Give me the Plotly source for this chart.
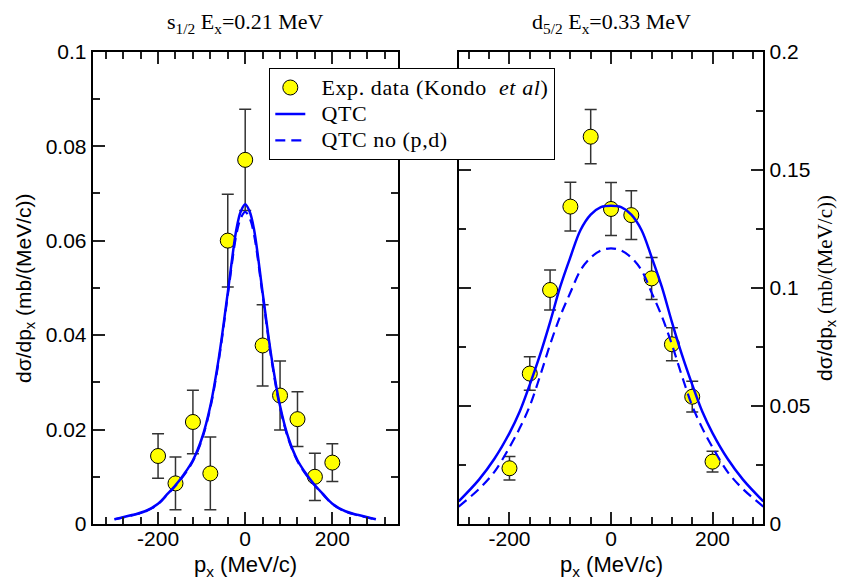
import plotly.graph_objects as go

W, H = 843, 579

# ---------------- data ----------------
exp_px = [-200, -160, -120, -80, -40, 0, 40, 80, 120, 160, 200]

s12_exp = [0.0144, 0.0086, 0.0216, 0.0107, 0.0600, 0.0771, 0.0378, 0.0272, 0.0222, 0.0100, 0.0130]
s12_err = [0.0047, 0.0056, 0.0067, 0.0077, 0.0098, 0.0107, 0.0086, 0.0073, 0.0058, 0.0050, 0.0040]

d52_exp = [0.0236, 0.0637, 0.0991, 0.1344, 0.1640, 0.1334, 0.1308, 0.1040, 0.0761, 0.0539, 0.0264]
d52_err = [0.0050, 0.0071, 0.0085, 0.0103, 0.0115, 0.0112, 0.0103, 0.0089, 0.0070, 0.0065, 0.0044]

s12_curve_px = [-300, -260, -230, -200, -180, -160, -140, -120, -100, -80, -60, -40, -20, -10, 0,
                10, 20, 40, 60, 80, 100, 120, 140, 160, 180, 200, 230, 260, 300]
s12_qtc = [0.0010, 0.0019, 0.0027, 0.0043, 0.0062, 0.0082, 0.0106, 0.0135, 0.0180, 0.0250, 0.0355,
           0.0490, 0.0625, 0.0662, 0.0677,
           0.0662, 0.0625, 0.0490, 0.0355, 0.0250, 0.0180, 0.0135, 0.0106, 0.0082, 0.0062, 0.0043,
           0.0027, 0.0019, 0.0010]
s12_qtc_nopd = [0.0010, 0.0018, 0.0026, 0.0042, 0.0061, 0.0081, 0.0104, 0.0133, 0.0177, 0.0246, 0.0350,
                0.0484, 0.0614, 0.0648, 0.0661,
                0.0648, 0.0614, 0.0484, 0.0350, 0.0246, 0.0177, 0.0133, 0.0104, 0.0081, 0.0061, 0.0042,
                0.0026, 0.0018, 0.0010]

d52_curve_px = [-300, -260, -230, -200, -180, -160, -140, -120, -100, -80, -60, -40, -20, 0,
                20, 40, 60, 80, 100, 120, 140, 160, 180, 200, 230, 260, 300]
d52_qtc = [0.0096, 0.0188, 0.0275, 0.0385, 0.0475, 0.0590, 0.0715, 0.0855, 0.1005, 0.1130, 0.1245,
           0.1310, 0.1342, 0.1348,
           0.1342, 0.1310, 0.1245, 0.1130, 0.1005, 0.0855, 0.0715, 0.0590, 0.0475, 0.0385, 0.0275,
           0.0188, 0.0096]
d52_qtc_nopd = [0.0074, 0.0148, 0.0220, 0.0325, 0.0405, 0.0500, 0.0625, 0.0760, 0.0880, 0.0980, 0.1075,
                0.1128, 0.1158, 0.1167,
                0.1158, 0.1128, 0.1075, 0.0980, 0.0880, 0.0760, 0.0625, 0.0500, 0.0405, 0.0325, 0.0220,
                0.0148, 0.0074]

x_tickvals = [-200, 0, 200]
x_ticktext = ["-200", "0", "200"]

legend_names = ["Exp. data (Kondo&nbsp; <i>et al</i>)", "QTC", "QTC no (p,d)"]

# ---------------- style ----------------
SANS = "Liberation Sans, Arial, sans-serif"
SERIF = "Liberation Serif, Times New Roman, serif"
BLUE = "#0000ff"
marker = dict(size=15, color="#ffff00", line=dict(color="black", width=1))
errstyle = dict(type="data", visible=True, thickness=1.5, width=6, color="#333333")

def leg(name):
    return ("<span style='font-size:22px;letter-spacing:0.6px'>&nbsp;\u2009" + name + "</span>")

fig = go.Figure()

# left panel
fig.add_trace(go.Scatter(x=exp_px, y=s12_exp, mode="markers", marker=marker,
                         error_y=dict(array=s12_err, **errstyle),
                         name=leg(legend_names[0]), xaxis="x", yaxis="y"))
fig.add_trace(go.Scatter(x=s12_curve_px, y=s12_qtc, mode="lines", line=dict(color=BLUE, width=2.5, shape="spline"),
                         name=leg(legend_names[1]), xaxis="x", yaxis="y"))
fig.add_trace(go.Scatter(x=s12_curve_px, y=s12_qtc_nopd, mode="lines",
                         line=dict(color=BLUE, width=2.2, dash="10px,6px", shape="spline"),
                         name=leg(legend_names[2]), xaxis="x", yaxis="y"))
# right panel
fig.add_trace(go.Scatter(x=exp_px, y=d52_exp, mode="markers", marker=marker,
                         error_y=dict(array=d52_err, **errstyle),
                         showlegend=False, xaxis="x2", yaxis="y2"))
fig.add_trace(go.Scatter(x=d52_curve_px, y=d52_qtc, mode="lines", line=dict(color=BLUE, width=2.5, shape="spline"),
                         showlegend=False, xaxis="x2", yaxis="y2"))
fig.add_trace(go.Scatter(x=d52_curve_px, y=d52_qtc_nopd, mode="lines",
                         line=dict(color=BLUE, width=2.2, dash="10px,6px", shape="spline"),
                         showlegend=False, xaxis="x2", yaxis="y2"))

MINOR_X = dict(ticks="inside", ticklen=7, tickwidth=1.5, tickcolor="#222", tick0=0, dtick=40, showgrid=False)

def ax(**kw):
    base = dict(showline=True, linecolor="black", linewidth=2, mirror="allticks",
                ticks="inside", ticklen=12, tickwidth=1.5, tickcolor="#222",
                showgrid=False, zeroline=False, automargin=False,
                tickfont=dict(family=SANS, size=21, color="black"),
                minor=dict(ticks="inside", ticklen=7, tickwidth=1.5, tickcolor="#222", showgrid=False))
    base.update(kw)
    return base

ytop = 1 - 51.7 / H
ybot = 1 - 524 / H

fig.update_layout(
    width=W, height=H, autosize=False,
    margin=dict(l=0, r=0, t=0, b=0, pad=0, autoexpand=False),
    paper_bgcolor="white", plot_bgcolor="white",
    xaxis=ax(domain=[92.7 / W, 397.7 / W], range=[-350, 350], tickmode="array",
             tickvals=x_tickvals, ticktext=x_ticktext, ticklabelstandoff=-5,
             anchor="y", minor=MINOR_X),
    yaxis=ax(domain=[ybot, ytop], range=[0, 0.1], tick0=0, dtick=0.02, anchor="x",
             minor_dtick=0.01),
    xaxis2=ax(domain=[458.7 / W, 763.3 / W], range=[-300, 300], tickmode="array",
              tickvals=x_tickvals, ticktext=x_ticktext, ticklabelstandoff=-5,
              anchor="y2", minor=MINOR_X),
    yaxis2=ax(domain=[ybot, ytop], range=[0, 0.2], tick0=0, dtick=0.05, anchor="x2",
              side="right", minor_dtick=0.025),
    showlegend=True,
    legend=dict(x=269.3 / W, y=1 - 68.3 / H, xanchor="left", yanchor="top",
                bgcolor="white", bordercolor="black", borderwidth=1,
                font=dict(family=SERIF, size=18, color="black"),
                tracegroupgap=0, itemwidth=30),
)

ann = []
ann.append(dict(text="s<sub>1/2</sub> E<sub>x</sub>=0.21 MeV", x=245 / W, y=1 - 23 / H,
                font=dict(family=SERIF, size=22, color="black")))
ann.append(dict(text="d<sub>5/2</sub> E<sub>x</sub>=0.33 MeV", x=611 / W, y=1 - 23 / H,
                font=dict(family=SERIF, size=22, color="black")))
ann.append(dict(text="p<sub>x</sub> (MeV/c)", x=245 / W, y=1 - 566 / H,
                font=dict(family=SANS, size=22, color="black")))
ann.append(dict(text="p<sub>x</sub> (MeV/c)", x=611 / W, y=1 - 566 / H,
                font=dict(family=SANS, size=22, color="black")))
ann.append(dict(text="dσ/dp<sub>x</sub> (mb/(MeV/c))", x=25 / W, y=(1 - 288 / H), textangle=-90,
                font=dict(family=SANS, size=21, color="black")))
ann.append(dict(text="dσ/dp<sub>x</sub> <span style='font-family:Liberation Serif'>(mb/(MeV/c))</span>",
                x=826 / W, y=(1 - 288 / H), textangle=-90,
                font=dict(family=SANS, size=21, color="black")))
for a in ann:
    a.update(xref="paper", yref="paper", showarrow=False, xanchor="center", yanchor="middle")
fig.update_layout(annotations=ann)

fig.write_html("out.html", config={"displayModeBar": False},
               post_script="document.body.style.margin='0';")
